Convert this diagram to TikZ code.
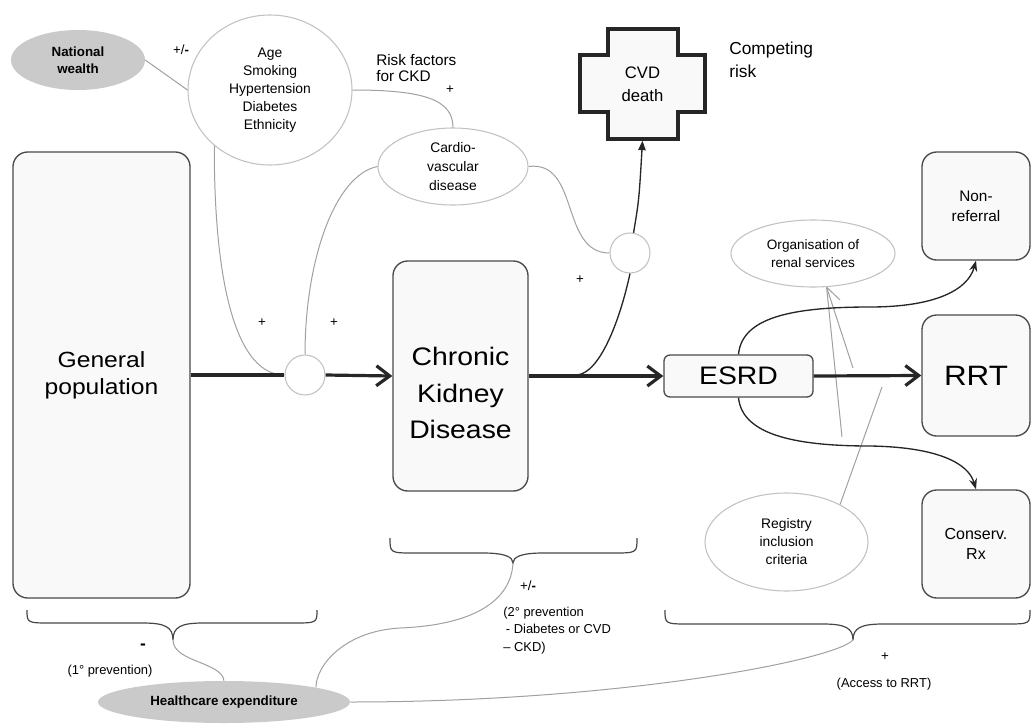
\documentclass[tikz,border=0pt]{standalone}
\usepackage{fontspec}
\setmainfont{Liberation Sans}
\newfontfamily\stretchfont[FakeStretch=1.12]{Liberation Sans}
\usetikzlibrary{shapes.geometric,arrows.meta}
\definecolor{boxfill}{HTML}{F9F9F9}
\definecolor{boxline}{HTML}{4A4A4A}
\definecolor{ellline}{HTML}{C2C2C2}
\definecolor{conline}{HTML}{A0A0A0}
\definecolor{greyfill}{HTML}{CACACA}
\definecolor{ink}{HTML}{262626}
\newcommand\bracepath[6]{%
  \draw[brace] (#1,#4) .. controls (#1,#5) and (#1,#5) .. ({#1+25},#5) -- ({#3-30},#5)
    .. controls ({#3-8},#5) and (#3,{#5+4}) .. (#3,#6)
    .. controls (#3,{#5+4}) and ({#3+8},#5) .. ({#3+30},#5) -- ({#2-25},#5)
    .. controls (#2,#5) and (#2,#5) .. (#2,#4);}
\begin{document}
\begin{tikzpicture}[x=0.75pt,y=-0.75pt,
  box/.style={draw=boxline, line width=1pt, fill=boxfill, rounded corners=11pt, align=center, inner sep=0pt},
  ell/.style={ellipse, draw=ellline, line width=0.8pt, fill=white, align=center, inner sep=0pt, font=\fontsize{10.4}{13.5}\selectfont},
  dark/.style={ellipse, fill=greyfill, draw=none, align=center, inner sep=0pt, font=\fontsize{10}{12.75}\selectfont\bfseries},
  hub/.style={circle, draw=ellline, line width=0.8pt, fill=white, minimum size=30pt, inner sep=0pt},
  mainline/.style={draw=ink, line width=2.4pt},
  mainarrow/.style={draw=ink, line width=2.4pt, -{Straight Barb[length=10pt,width=15pt]}},
  thin/.style={draw=conline, line width=0.75pt},
  flow/.style={draw=ink, line width=1pt},
  brace/.style={draw=ink!85, line width=0.9pt},
  lbl/.style={font=\fontsize{10}{13}\selectfont, inner sep=0pt, align=left}]
\useasboundingbox (0,0) rectangle (1032,725);

% boxes
\node[box, minimum width=177*0.75pt, minimum height=446*0.75pt, font=\fontsize{16.5}{20}\stretchfont] (gp) at (101.5,375) {General\\population};
\node[box, minimum width=135*0.75pt, minimum height=230*0.75pt] (ckd) at (460.5,376) {};
\node[align=center, inner sep=0pt, font=\fontsize{19}{27.5}\stretchfont] (ckdtext) at (460.5,393) {Chronic\\Kidney\\Disease};
\node[box, rounded corners=4.5pt, minimum width=149*0.75pt, minimum height=42*0.75pt, font=\fontsize{19}{22}\stretchfont] (esrd) at (738.5,376) {ESRD};
\node[box, minimum width=108*0.75pt, minimum height=108*0.75pt, font=\fontsize{11.5}{15}\selectfont] (nonref) at (976,206) {Non-\\referral};
\node[box, minimum width=108*0.75pt, minimum height=121*0.75pt, font=\fontsize{21}{24}\stretchfont] (rrt) at (976,375.5) {RRT};
\node[box, minimum width=108*0.75pt, minimum height=108*0.75pt, font=\fontsize{12}{15}\selectfont] (cons) at (976,544) {Conserv.\\Rx};

% CVD death cross
\draw[line width=2.4pt, draw=ink, fill=boxfill] (608,29) -- (678,29) -- (678,55) -- (705,55) -- (705,112) -- (678,112) -- (678,139) -- (608,139) -- (608,112) -- (580,112) -- (580,55) -- (608,55) -- cycle;
\node[minimum width=125*0.75pt, minimum height=113*0.75pt, inner sep=0pt, align=center, font=\fontsize{12.5}{17}\selectfont] (cvd) at (642.5,84) {CVD\\death};

% ellipses and hubs
\node[ell, minimum width=164*0.75pt, minimum height=150*0.75pt] (rf) at (270,90) {Age\\Smoking\\Hypertension\\Diabetes\\Ethnicity};
\node[dark, minimum width=134*0.75pt, minimum height=60*0.75pt] (nw) at (78,60) {National\\wealth};
\node[ell, minimum width=150*0.75pt, minimum height=77*0.75pt, font=\fontsize{10.4}{14}\selectfont] (cv) at (453,166.5) {Cardio-\\vascular\\disease};
\node[hub] (c1) at (305,375) {};
\node[hub] (c2) at (630,253) {};
\node[ell, minimum width=164*0.75pt, minimum height=67*0.75pt, font=\fontsize{10.2}{14}\selectfont] (org) at (813,253.5) {Organisation of\\renal services};
\node[ell, minimum width=163*0.75pt, minimum height=98*0.75pt] (reg) at (786.5,542) {Registry\\inclusion\\criteria};
\node[dark, minimum width=252*0.75pt, minimum height=42*0.75pt] (he) at (224,702) {Healthcare expenditure};

% free-end coordinates
\coordinate (b1) at (577,375);
\coordinate (o1) at (842,437);
\coordinate (o2) at (853,368);
\coordinate (o3) at (840,300);
\coordinate (r1) at (882,387);
\coordinate (t1) at (173,640);
\coordinate (t2) at (513,563);
\coordinate (t3) at (853,640);

% thin grey connectors
\draw[thin] (nw.east) -- (rf.west);
\draw[thin] (rf.east) .. controls (425,90) and (453,100) .. (cv.north);
\draw[thin] (rf.225) .. controls (214,290) and (238,375) .. (c1.west);
\draw[thin] (cv.west) .. controls (335,175) and (305,260) .. (c1.north);
\draw[thin] (cv.east) .. controls (580,160) and (560,253) .. (c2.west);
\draw[thin] (org.-68) -- (o1);
\draw[thin] (org.-68) -- (o2);
\draw[thin] (org.-68) -- (o3);
\draw[thin] (reg.35) -- (r1);

% main flow
\draw[mainline] (gp.east) -- (c1.west);
\draw[mainarrow] (c1.east) -- (ckd.west);
\draw[mainarrow] (ckd.east) -- (esrd.west);
\draw[mainarrow] (esrd.east) -- (rrt.west);

% dark flow curves
\draw[flow] (b1) .. controls (600,373) and (620,320) .. (c2.south);
\draw[flow, -{Triangle[length=7pt,width=5.5pt]}] (c2.80) .. controls (639,200) .. (cvd.south);
\draw[flow, -{Stealth[length=8pt,width=6pt]}] (esrd.north) .. controls (742,318) and (790,307) .. (870,307) .. controls (935,307) and (968,290) .. (nonref.south);
\draw[flow, -{Stealth[length=8pt,width=6pt]}] (esrd.south) .. controls (742,433) and (790,446) .. (870,446) .. controls (935,447) and (968,462) .. (cons.north);

% braces
\bracepath{27}{317}{173}{610}{623}{640}
\bracepath{390}{637}{513}{538}{553}{563}
\bracepath{665}{1030}{853}{610}{624}{640}

% connectors to healthcare expenditure
\draw[thin] (t1) .. controls (173,662) and (222,662) .. (he.north);
\draw[thin] (t2) .. controls (511,600) and (475,625) .. (400,628) .. controls (345,631) and (316,665) .. (he.9.5);
\draw[thin] (t3) .. controls (835,660) and (620,702) .. (he.east);

% labels
\node[lbl] (pm1) at (181,50) {+/\textbf{-}};
\node[lbl, anchor=west, font=\fontsize{11.5}{12.5}\selectfont] (rflbl) at (376,68) {Risk factors\\for CKD};
\node[lbl] (p1) at (450,90) {+};
\node[lbl, anchor=west, font=\fontsize{13}{17.5}\selectfont] (comp) at (729,60) {Competing\\risk};
\node[lbl] (p2) at (262,323) {+};
\node[lbl] (p3) at (334,323) {+};
\node[lbl] (p4) at (580,280) {+};
\node[lbl, font=\fontsize{13}{14}\bfseries] (m1) at (143,647) {-};
\node[lbl, font=\fontsize{9.7}{12}\selectfont] (prev1) at (110,671) {(1° prevention)};
\node[lbl] (pm2) at (528,586) {+/\textbf{-}};
\node[lbl, anchor=north west, font=\fontsize{9.7}{13}\selectfont] (prev2) at (503,607) {(2° prevention\\\hspace*{2pt}- Diabetes or CVD\\– CKD)};
\node[lbl] (p5) at (885,657) {+};
\node[lbl, font=\fontsize{9.7}{12}\selectfont] (acc) at (884,684) {(Access to RRT)};
\end{tikzpicture}
\end{document}
